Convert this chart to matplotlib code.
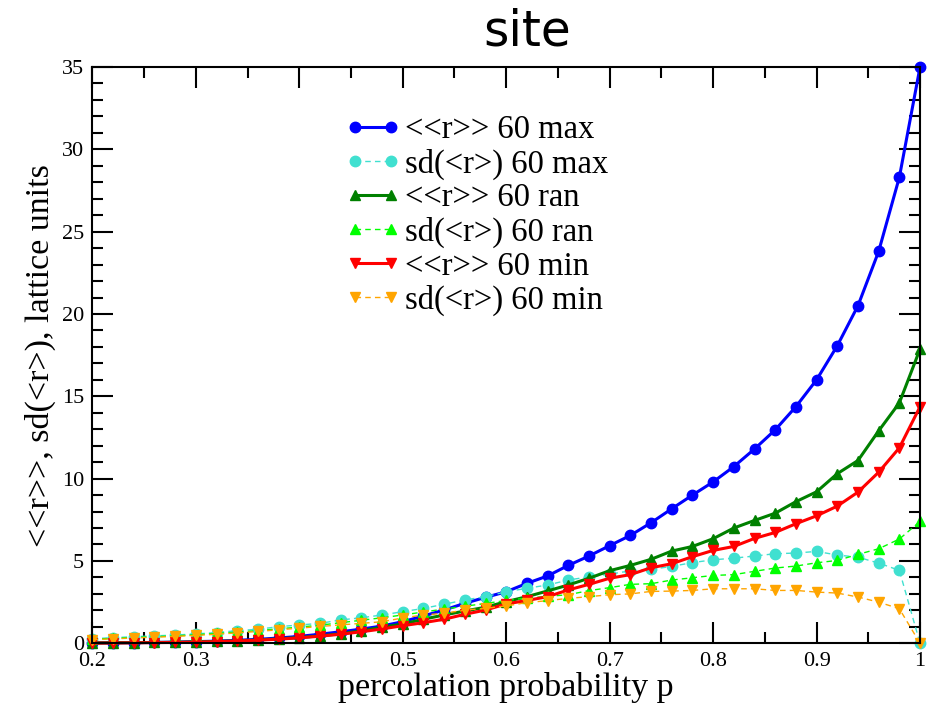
import matplotlib
matplotlib.use("Agg")
import matplotlib.pyplot as plt
from matplotlib.ticker import MultipleLocator, FixedLocator

p = [0.20, 0.22, 0.24, 0.26, 0.28, 0.30, 0.32, 0.34, 0.36, 0.38,
     0.40, 0.42, 0.44, 0.46, 0.48, 0.50, 0.52, 0.54, 0.56, 0.58,
     0.60, 0.62, 0.64, 0.66, 0.68, 0.70, 0.72, 0.74, 0.76, 0.78,
     0.80, 0.82, 0.84, 0.86, 0.88, 0.90, 0.92, 0.94, 0.96, 0.98, 1.00]

mean_max = [0.02, 0.03, 0.04, 0.05, 0.07, 0.10, 0.13, 0.18, 0.24, 0.32,
            0.42, 0.55, 0.70, 0.86, 1.05, 1.31, 1.66, 2.02, 2.43, 2.79,
            3.13, 3.64, 4.09, 4.73, 5.30, 5.93, 6.55, 7.32, 8.17, 9.00,
            9.80, 10.73, 11.80, 12.96, 14.37, 16.00, 18.07, 20.5, 23.8, 28.3, 35.0]
sd_max = [0.28, 0.34, 0.40, 0.45, 0.50, 0.57, 0.65, 0.77, 0.85, 1.01,
          1.11, 1.21, 1.42, 1.55, 1.72, 1.92, 2.12, 2.37, 2.63, 2.83,
          3.13, 3.34, 3.54, 3.84, 4.04, 4.20, 4.40, 4.49, 4.67, 4.90,
          5.07, 5.17, 5.30, 5.44, 5.48, 5.58, 5.36, 5.23, 4.87, 4.43, 0.0]
mean_ran = [0.02, 0.03, 0.04, 0.05, 0.06, 0.08, 0.11, 0.15, 0.20, 0.27,
            0.35, 0.45, 0.58, 0.75, 0.98, 1.17, 1.46, 1.72, 1.96, 2.19,
            2.53, 2.83, 3.18, 3.54, 3.95, 4.41, 4.73, 5.10, 5.60, 5.88,
            6.35, 7.00, 7.46, 7.90, 8.60, 9.20, 10.30, 11.10, 12.90, 14.60, 17.87]
sd_ran = [0.25, 0.30, 0.35, 0.40, 0.45, 0.52, 0.60, 0.68, 0.77, 0.88,
          0.98, 1.10, 1.25, 1.40, 1.55, 1.72, 1.90, 2.08, 2.25, 2.42,
          2.60, 2.75, 2.85, 2.95, 3.20, 3.38, 3.58, 3.62, 3.84, 3.98,
          4.12, 4.17, 4.37, 4.57, 4.69, 4.89, 5.03, 5.40, 5.74, 6.33, 7.40]
mean_min = [0.01, 0.02, 0.03, 0.04, 0.05, 0.07, 0.10, 0.14, 0.19, 0.25,
            0.33, 0.43, 0.55, 0.70, 0.87, 1.07, 1.25, 1.46, 1.76, 2.02,
            2.39, 2.60, 2.83, 3.24, 3.58, 3.95, 4.17, 4.59, 4.83, 5.26,
            5.64, 5.88, 6.37, 6.73, 7.26, 7.74, 8.33, 9.18, 10.39, 11.87, 14.37]
sd_min = [0.22, 0.27, 0.32, 0.37, 0.42, 0.48, 0.55, 0.63, 0.72, 0.82,
          0.92, 1.02, 1.12, 1.21, 1.31, 1.54, 1.72, 1.82, 2.02, 2.12,
          2.27, 2.47, 2.59, 2.73, 2.83, 2.95, 3.00, 3.15, 3.17, 3.21,
          3.31, 3.31, 3.31, 3.21, 3.21, 3.11, 3.05, 2.81, 2.50, 2.10, 0.0]

labels = ["<<r>> 60 max", "sd(<r>) 60 max", "<<r>> 60 ran",
          "sd(<r>) 60 ran", "<<r>> 60 min", "sd(<r>) 60 min"]
xtick_vals = [0.2, 0.3, 0.4, 0.5, 0.6, 0.7, 0.8, 0.9, 1.0]
xtick_labels = ["0.2", "0.3", "0.4", "0.5", "0.6", "0.7", "0.8", "0.9", "1"]

serif = ["Liberation Serif", "DejaVu Serif"]

fig = plt.figure(figsize=(9.37, 7.08), dpi=100)
ax = fig.add_axes([0.0986, 0.0914, 0.8833, 0.814])

series = [
    (mean_max, "#0000ff", "o", "-", 2.2),
    (sd_max, "#40e0d0", "o", "--", 1.0),
    (mean_ran, "#008000", "^", "-", 2.2),
    (sd_ran, "#00ff00", "^", "--", 1.0),
    (mean_min, "#ff0000", "v", "-", 2.2),
    (sd_min, "#ffa500", "v", "--", 1.0),
]
for (vals, col, mk, ls, lw), lab in zip(series, labels):
    ax.plot(p, vals, color=col, marker=mk, linestyle=ls, linewidth=lw,
            markersize=7.5, label=lab, clip_on=False,
            dashes=(4, 3) if ls == "--" else (None, None))

ax.set_xlim(0.2, 1.0)
ax.set_ylim(0, 35)
ax.xaxis.set_major_locator(FixedLocator(xtick_vals))
ax.set_xticklabels(xtick_labels)
ax.xaxis.set_minor_locator(MultipleLocator(0.05))
ax.yaxis.set_major_locator(MultipleLocator(5))
ax.yaxis.set_minor_locator(MultipleLocator(1))
ax.tick_params(which="both", direction="in", top=True, right=True, width=1.5)
ax.tick_params(which="major", length=15, labelsize=16, pad=6)
ax.tick_params(which="minor", length=8)
for lab in ax.get_xticklabels() + ax.get_yticklabels():
    lab.set_fontfamily(serif)
for s in ax.spines.values():
    s.set_linewidth(1.5)

ax.set_xlabel("percolation probability p", family=serif, fontsize=24.5, labelpad=1)
ax.set_ylabel("<<r>>, sd(<r>), lattice units", family=serif, fontsize=24.5, labelpad=4)

fig.text(0.563, 0.955, "site", ha="center", va="center",
         family="DejaVu Sans", fontsize=35)

leg = ax.legend(loc="upper left", bbox_to_anchor=(0.29, 0.94), frameon=False,
                prop={"family": serif, "size": 23.5}, handlelength=1.7,
                numpoints=2, handletextpad=0.12, labelspacing=0.1,
                borderaxespad=0)

fig.savefig("out.png", dpi=100)
